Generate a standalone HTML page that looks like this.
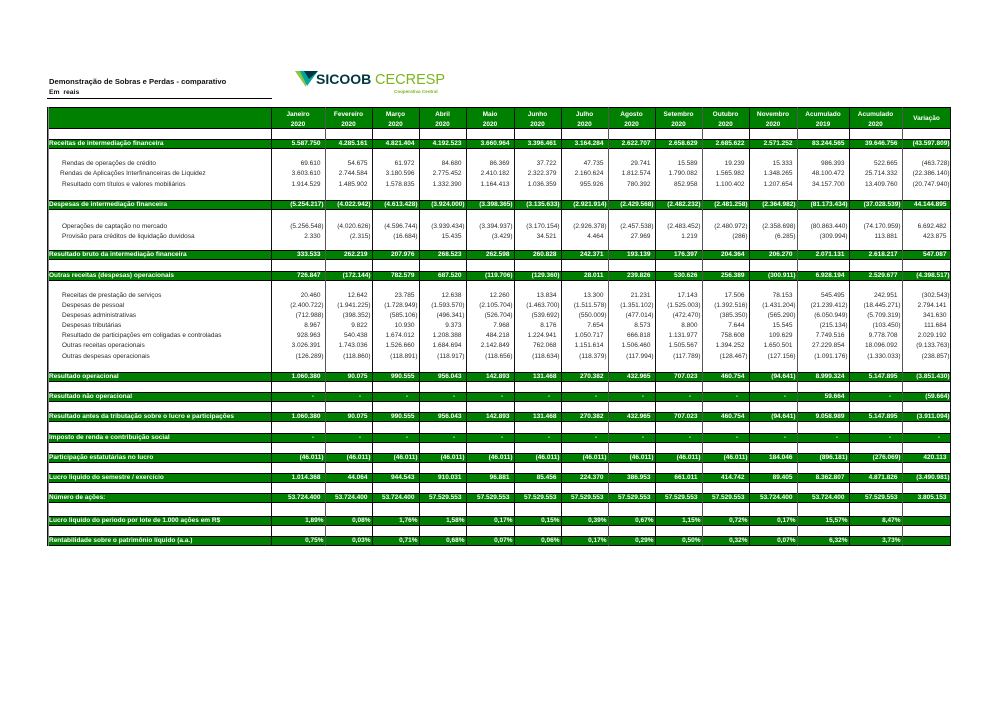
<!DOCTYPE html>
<html lang="pt">
<head>
<meta charset="utf-8">
<style>
  html,body{margin:0;padding:0;background:#fff;}
  body{width:1000px;height:707px;position:relative;overflow:hidden;font-family:"Liberation Sans",Arial,sans-serif;}
  .title{position:absolute;left:49px;top:77px;font-size:7.6px;font-weight:bold;color:#111;line-height:10px;white-space:nowrap;}
  .sub{position:absolute;left:49px;top:88px;font-size:6.8px;font-weight:bold;color:#111;line-height:10px;}
  .uline{position:absolute;left:47px;top:98px;width:225px;height:1px;background:#000;}
  .r{position:absolute;left:47px;width:904px;height:10px;display:grid;
     grid-template-columns:224px 54px 47px 47px 47px 48px 47px 47px 47px 47px 47px 48px 52px 53px 49px;
     font-size:6.5px;line-height:10px;color:#2a2a2a;box-sizing:border-box;}
  .r>div{text-align:right;padding-right:4.5px;white-space:nowrap;}
  .r>div:first-child{text-align:left;padding-left:15px;padding-right:0;}
  .r>div.a{padding-left:13px;}
  .g{background:#008000;color:#fff;font-weight:bold;border-top:1px solid #000;border-bottom:1px solid #000;line-height:8px;}
  .g>div:first-child{padding-left:2px;}
  .r>div.n{padding-right:1.5px;}
  .r>div.d{padding-right:11px;}
  .r>div.p{padding-right:1.5px;}
  .hdr{position:absolute;left:47px;top:107px;width:904px;height:22px;background:#008000;border-top:1px solid #000;border-bottom:1px solid #000;box-sizing:border-box;
     display:grid;grid-template-columns:224px 54px 47px 47px 47px 48px 47px 47px 47px 47px 47px 48px 52px 53px 49px;
     color:#fff;font-weight:bold;font-size:6.5px;line-height:9.5px;}
  .hdr>div{text-align:center;padding-top:2px;}
  .hdr>div.v{padding-top:6px;}
  .vl{position:absolute;top:107px;height:439px;width:1px;background:#111;}
</style>
</head>
<body>

<div class="title">Demonstração de Sobras e Perdas - comparativo</div>
<div class="sub">Em&nbsp; reais</div>
<div class="uline"></div>

<svg style="position:absolute;left:0;top:0" width="1000" height="100" xmlns="http://www.w3.org/2000/svg">
  <polygon points="295,71 306,71 306,87" fill="#8cc63f"/>
  <polygon points="300,71 318,71 307,86" fill="#00a79d"/>
  <polygon points="304,71 318,71 309,79" fill="#003641"/>
  <text x="316" y="84" font-family="Liberation Sans, Arial, sans-serif" font-size="14" font-weight="bold" fill="#003641">SICOOB</text>
  <text x="375" y="84" font-family="Liberation Sans, Arial, sans-serif" font-size="14.5" fill="#7ab51d">CECRESP</text>
  <text x="394" y="93" font-family="Liberation Sans, Arial, sans-serif" font-size="4.6" font-weight="bold" fill="#7ab51d">Cooperativa Central</text>
</svg>

<div class="hdr">
  <div></div>
  <div>Janeiro<br>2020</div>
  <div>Fevereiro<br>2020</div>
  <div>Março<br>2020</div>
  <div>Abril<br>2020</div>
  <div>Maio<br>2020</div>
  <div>Junho<br>2020</div>
  <div>Julho<br>2020</div>
  <div>Agosto<br>2020</div>
  <div>Setembro<br>2020</div>
  <div>Outubro<br>2020</div>
  <div>Novembro<br>2020</div>
  <div>Acumulado<br>2019</div>
  <div>Acumulado<br>2020</div>
  <div class="v">Variação</div>
</div>

<!-- G1 -->
<div class="r g" style="top:139px">
  <div>Receitas de intermediação financeira</div>
  <div>5.587.750</div><div>4.285.161</div><div>4.821.404</div><div>4.192.523</div><div>3.660.964</div><div>3.396.461</div><div>3.164.284</div><div>2.622.707</div><div>2.658.629</div><div>2.685.622</div><div>2.571.252</div><div>83.244.565</div><div>39.646.756</div><div class="n">(43.597.809)</div>
</div>
<div class="r" style="top:159px">
  <div>Rendas de operações de crédito</div>
  <div>69.610</div><div>54.675</div><div>61.972</div><div>84.680</div><div>86.369</div><div>37.722</div><div>47.735</div><div>29.741</div><div>15.589</div><div>19.239</div><div>15.333</div><div>986.393</div><div>522.665</div><div class="n">(463.728)</div>
</div>
<div class="r" style="top:169px">
  <div class="a">Rendas de Aplicações Interfinanceiras de Liquidez</div>
  <div>3.603.610</div><div>2.744.584</div><div>3.180.596</div><div>2.775.452</div><div>2.410.182</div><div>2.322.379</div><div>2.160.624</div><div>1.812.574</div><div>1.790.082</div><div>1.565.982</div><div>1.348.265</div><div>48.100.472</div><div>25.714.332</div><div class="n">(22.386.140)</div>
</div>
<div class="r" style="top:180px">
  <div>Resultado com títulos e valores mobiliários</div>
  <div>1.914.529</div><div>1.485.902</div><div>1.578.835</div><div>1.332.390</div><div>1.164.413</div><div>1.036.359</div><div>955.926</div><div>780.392</div><div>852.958</div><div>1.100.402</div><div>1.207.654</div><div>34.157.700</div><div>13.409.760</div><div class="n">(20.747.940)</div>
</div>

<!-- G2 -->
<div class="r g" style="top:200px">
  <div>Despesas de intermediação financeira</div>
  <div class="n">(5.254.217)</div><div class="n">(4.022.942)</div><div class="n">(4.613.428)</div><div class="n">(3.924.000)</div><div class="n">(3.398.365)</div><div class="n">(3.135.633)</div><div class="n">(2.921.914)</div><div class="n">(2.429.568)</div><div class="n">(2.482.232)</div><div class="n">(2.481.258)</div><div class="n">(2.364.982)</div><div class="n">(81.173.434)</div><div class="n">(37.028.539)</div><div>44.144.895</div>
</div>
<div class="r" style="top:222px">
  <div>Operações de captação no mercado</div>
  <div class="n">(5.256.548)</div><div class="n">(4.020.626)</div><div class="n">(4.596.744)</div><div class="n">(3.939.434)</div><div class="n">(3.394.937)</div><div class="n">(3.170.154)</div><div class="n">(2.926.378)</div><div class="n">(2.457.538)</div><div class="n">(2.483.452)</div><div class="n">(2.480.972)</div><div class="n">(2.358.698)</div><div class="n">(80.863.440)</div><div class="n">(74.170.959)</div><div>6.692.482</div>
</div>
<div class="r" style="top:232px">
  <div>Provisão para créditos de liquidação duvidosa</div>
  <div>2.330</div><div class="n">(2.315)</div><div class="n">(16.684)</div><div>15.435</div><div class="n">(3.429)</div><div>34.521</div><div>4.464</div><div>27.969</div><div>1.219</div><div class="n">(286)</div><div class="n">(6.285)</div><div class="n">(309.994)</div><div>113.881</div><div>423.875</div>
</div>

<!-- G3 -->
<div class="r g" style="top:250px">
  <div>Resultado bruto da intermediação financeira</div>
  <div>333.533</div><div>262.219</div><div>207.976</div><div>268.523</div><div>262.598</div><div>260.828</div><div>242.371</div><div>193.139</div><div>176.397</div><div>204.364</div><div>206.270</div><div>2.071.131</div><div>2.618.217</div><div>547.087</div>
</div>

<!-- G4 -->
<div class="r g" style="top:271px">
  <div>Outras receitas (despesas) operacionais</div>
  <div>726.847</div><div class="n">(172.144)</div><div>782.579</div><div>687.520</div><div class="n">(119.706)</div><div class="n">(129.360)</div><div>28.011</div><div>239.826</div><div>530.626</div><div>256.389</div><div class="n">(300.911)</div><div>6.928.194</div><div>2.529.677</div><div class="n">(4.398.517)</div>
</div>
<div class="r" style="top:291px">
  <div>Receitas de prestação de serviços</div>
  <div>20.460</div><div>12.642</div><div>23.785</div><div>12.638</div><div>12.260</div><div>13.834</div><div>13.300</div><div>21.231</div><div>17.143</div><div>17.506</div><div>78.153</div><div>545.495</div><div>242.951</div><div class="n">(302.543)</div>
</div>
<div class="r" style="top:301px">
  <div>Despesas de pessoal</div>
  <div class="n">(2.400.722)</div><div class="n">(1.941.225)</div><div class="n">(1.728.949)</div><div class="n">(1.593.570)</div><div class="n">(2.105.704)</div><div class="n">(1.463.700)</div><div class="n">(1.511.578)</div><div class="n">(1.351.102)</div><div class="n">(1.525.003)</div><div class="n">(1.392.516)</div><div class="n">(1.431.204)</div><div class="n">(21.239.412)</div><div class="n">(18.445.271)</div><div>2.794.141</div>
</div>
<div class="r" style="top:311px">
  <div>Despesas administrativas</div>
  <div class="n">(712.988)</div><div class="n">(398.352)</div><div class="n">(585.106)</div><div class="n">(496.341)</div><div class="n">(526.704)</div><div class="n">(539.692)</div><div class="n">(550.009)</div><div class="n">(477.014)</div><div class="n">(472.470)</div><div class="n">(385.350)</div><div class="n">(565.290)</div><div class="n">(6.050.949)</div><div class="n">(5.709.319)</div><div>341.630</div>
</div>
<div class="r" style="top:321px">
  <div>Despesas tributárias</div>
  <div>8.967</div><div>9.822</div><div>10.930</div><div>9.373</div><div>7.968</div><div>8.176</div><div>7.654</div><div>8.573</div><div>8.800</div><div>7.644</div><div>15.545</div><div class="n">(215.134)</div><div class="n">(103.450)</div><div>111.684</div>
</div>
<div class="r" style="top:331px">
  <div>Resultado de participações em coligadas e controladas</div>
  <div>928.963</div><div>540.438</div><div>1.674.012</div><div>1.208.388</div><div>484.218</div><div>1.224.941</div><div>1.050.717</div><div>666.818</div><div>1.131.977</div><div>758.608</div><div>109.629</div><div>7.749.516</div><div>9.778.708</div><div>2.029.192</div>
</div>
<div class="r" style="top:341px">
  <div>Outras receitas operacionais</div>
  <div>3.026.391</div><div>1.743.036</div><div>1.526.660</div><div>1.684.694</div><div>2.142.849</div><div>762.068</div><div>1.151.614</div><div>1.506.460</div><div>1.505.567</div><div>1.394.252</div><div>1.650.501</div><div>27.229.854</div><div>18.096.092</div><div class="n">(9.133.763)</div>
</div>
<div class="r" style="top:352px">
  <div>Outras despesas operacionais</div>
  <div class="n">(126.289)</div><div class="n">(118.860)</div><div class="n">(118.891)</div><div class="n">(118.917)</div><div class="n">(118.656)</div><div class="n">(118.634)</div><div class="n">(118.379)</div><div class="n">(117.994)</div><div class="n">(117.789)</div><div class="n">(128.467)</div><div class="n">(127.156)</div><div class="n">(1.091.176)</div><div class="n">(1.330.033)</div><div class="n">(238.857)</div>
</div>

<!-- G5 -->
<div class="r g" style="top:372px">
  <div>Resultado operacional</div>
  <div>1.060.380</div><div>90.075</div><div>990.555</div><div>956.043</div><div>142.893</div><div>131.468</div><div>270.382</div><div>432.965</div><div>707.023</div><div>460.754</div><div class="n">(94.641)</div><div>8.999.324</div><div>5.147.895</div><div class="n">(3.851.430)</div>
</div>

<!-- G6 -->
<div class="r g" style="top:392px">
  <div>Resultado não operacional</div>
  <div class="d">-</div><div class="d">-</div><div class="d">-</div><div class="d">-</div><div class="d">-</div><div class="d">-</div><div class="d">-</div><div class="d">-</div><div class="d">-</div><div class="d">-</div><div class="d">-</div><div>59.664</div><div class="d">-</div><div class="n">(59.664)</div>
</div>

<!-- G7 -->
<div class="r g" style="top:412px">
  <div>Resultado antes da tributação sobre o lucro e participações</div>
  <div>1.060.380</div><div>90.075</div><div>990.555</div><div>956.043</div><div>142.893</div><div>131.468</div><div>270.382</div><div>432.965</div><div>707.023</div><div>460.754</div><div class="n">(94.641)</div><div>9.058.989</div><div>5.147.895</div><div class="n">(3.911.094)</div>
</div>

<!-- G8 -->
<div class="r g" style="top:433px">
  <div>Imposto de renda e contribuição social</div>
  <div class="d">-</div><div class="d">-</div><div class="d">-</div><div class="d">-</div><div class="d">-</div><div class="d">-</div><div class="d">-</div><div class="d">-</div><div class="d">-</div><div class="d">-</div><div class="d">-</div><div class="d">-</div><div class="d">-</div><div class="d">-</div>
</div>

<!-- G9 -->
<div class="r g" style="top:453px">
  <div>Participação estatutárias no lucro</div>
  <div class="n">(46.011)</div><div class="n">(46.011)</div><div class="n">(46.011)</div><div class="n">(46.011)</div><div class="n">(46.011)</div><div class="n">(46.011)</div><div class="n">(46.011)</div><div class="n">(46.011)</div><div class="n">(46.011)</div><div class="n">(46.011)</div><div>184.046</div><div class="n">(896.181)</div><div class="n">(276.069)</div><div>420.113</div>
</div>

<!-- G10 -->
<div class="r g" style="top:473px">
  <div>Lucro liquido do semestre / exercício</div>
  <div>1.014.368</div><div>44.064</div><div>944.543</div><div>910.031</div><div>96.881</div><div>85.456</div><div>224.370</div><div>386.953</div><div>661.011</div><div>414.742</div><div>89.405</div><div>8.362.807</div><div>4.871.826</div><div class="n">(3.490.981)</div>
</div>

<!-- G11 -->
<div class="r g" style="top:493px">
  <div>Número de ações:</div>
  <div>53.724.400</div><div>53.724.400</div><div>53.724.400</div><div>57.529.553</div><div>57.529.553</div><div>57.529.553</div><div>57.529.553</div><div>57.529.553</div><div>57.529.553</div><div>57.529.553</div><div>53.724.400</div><div>53.724.400</div><div>57.529.553</div><div>3.805.153</div>
</div>

<!-- G12 -->
<div class="r g" style="top:516px">
  <div>Lucro liquido do periodo por lote de 1.000 ações em R$</div>
  <div class="p">1,89%</div><div class="p">0,08%</div><div class="p">1,76%</div><div class="p">1,58%</div><div class="p">0,17%</div><div class="p">0,15%</div><div class="p">0,39%</div><div class="p">0,67%</div><div class="p">1,15%</div><div class="p">0,72%</div><div class="p">0,17%</div><div class="p">15,57%</div><div class="p">8,47%</div><div></div>
</div>

<!-- G13 -->
<div class="r g" style="top:536px">
  <div>Rentabilidade sobre o patrimônio líquido (a.a.)</div>
  <div class="p">0,75%</div><div class="p">0,03%</div><div class="p">0,71%</div><div class="p">0,68%</div><div class="p">0,07%</div><div class="p">0,06%</div><div class="p">0,17%</div><div class="p">0,29%</div><div class="p">0,50%</div><div class="p">0,32%</div><div class="p">0,07%</div><div class="p">6,32%</div><div class="p">3,73%</div><div></div>
</div>

<!-- vertical grid lines -->
<div class="vl" style="left:47px"></div>
<div class="vl" style="left:48px;background:#888"></div>
<div class="vl" style="left:271px"></div>
<div class="vl" style="left:325px;background:#555"></div>
<div class="vl" style="left:372px"></div>
<div class="vl" style="left:419px"></div>
<div class="vl" style="left:466px"></div>
<div class="vl" style="left:514px"></div>
<div class="vl" style="left:561px"></div>
<div class="vl" style="left:608px;background:#555"></div>
<div class="vl" style="left:655px"></div>
<div class="vl" style="left:702px;background:#555"></div>
<div class="vl" style="left:749px"></div>
<div class="vl" style="left:797px;background:#555"></div>
<div class="vl" style="left:849px"></div>
<div class="vl" style="left:902px;background:#555"></div>
<div class="vl" style="left:950px"></div>

</body>
</html>
